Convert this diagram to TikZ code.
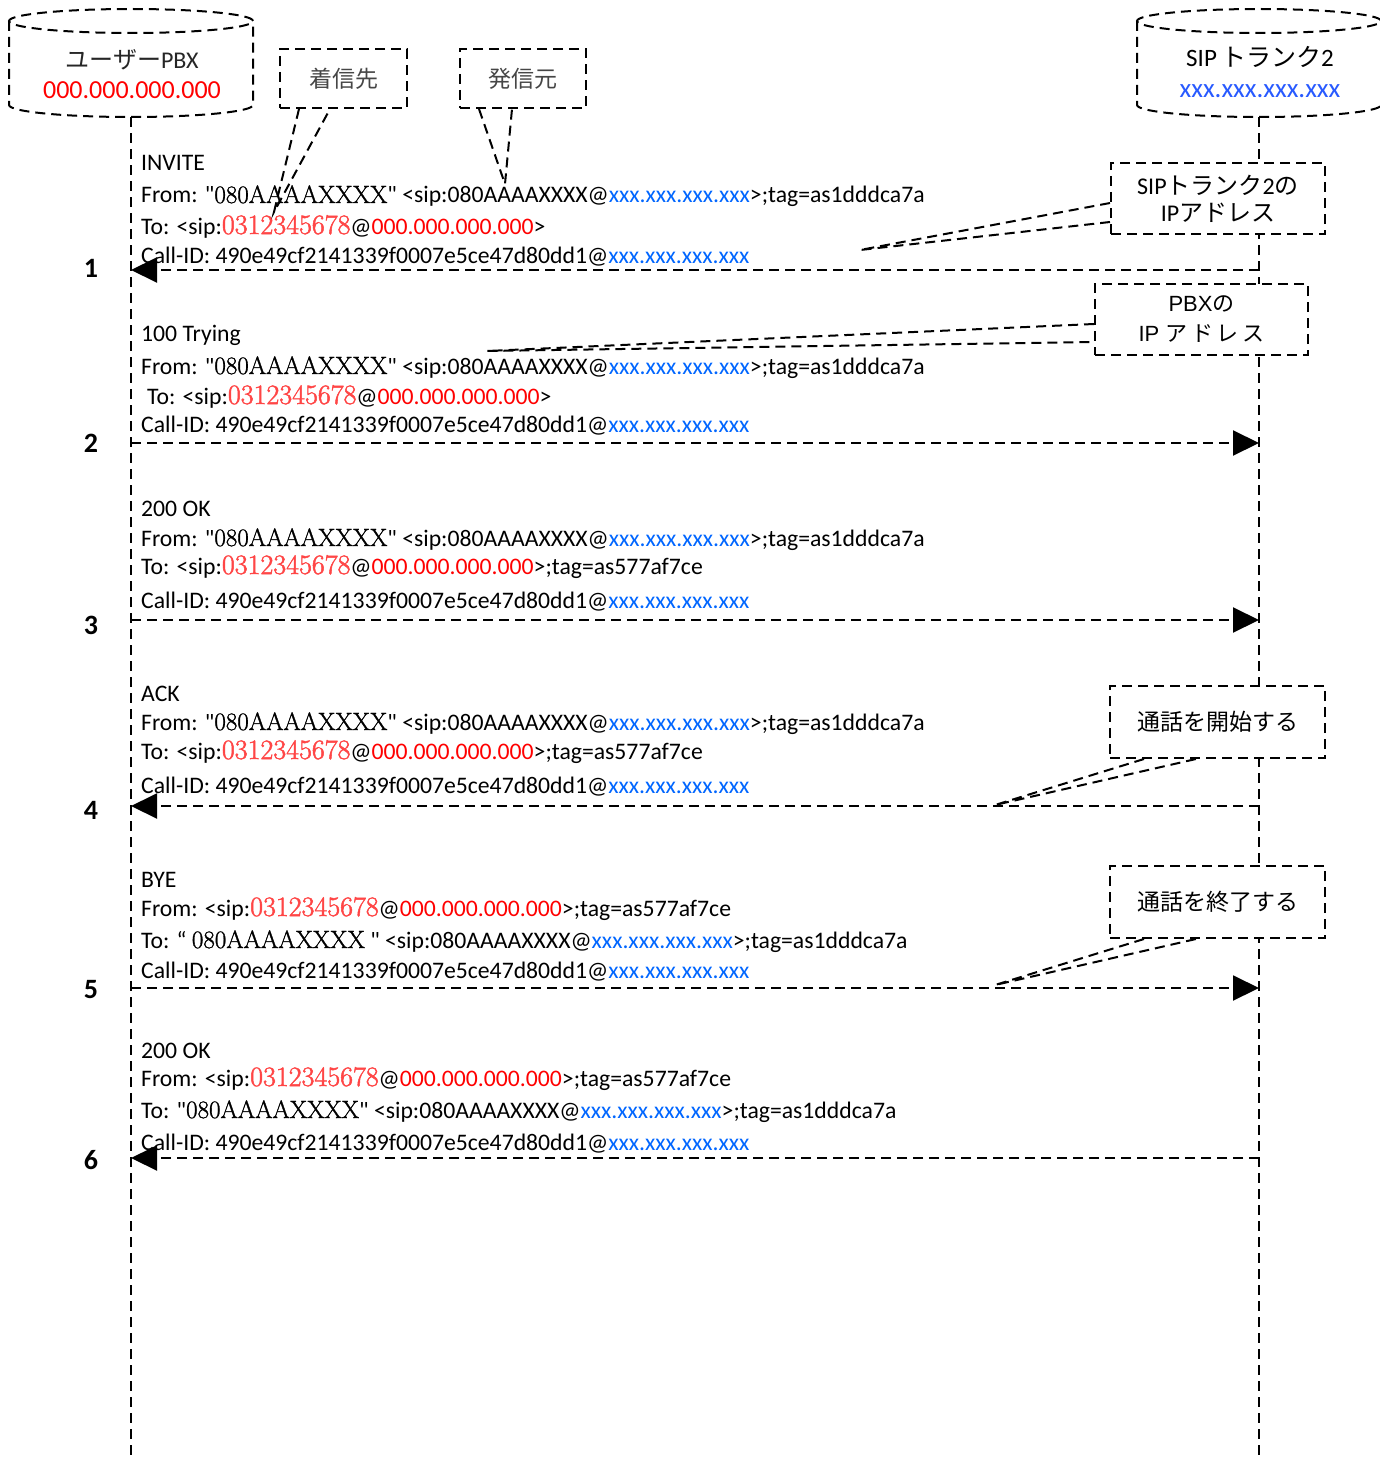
\documentclass[tikz,border=0pt]{standalone}
\usepackage{fontspec}
\usetikzlibrary{arrows.meta,calc}
\newfontfamily\calfnt{Carlito}
\newfontfamily\jp{Noto Sans CJK JP}
\newfontfamily\ars{Liberation Sans}
\newfontfamily\srfb{Latin Modern Roman}[FakeBold=1.2]
\newfontfamily\srfbb{Latin Modern Roman}[FakeBold=1.8]
\definecolor{ipred}{RGB}{255,0,0}
\definecolor{telred}{RGB}{255,70,70}
\definecolor{ipblue}{RGB}{0,102,255}
\definecolor{cylblue}{RGB}{40,90,255}
\definecolor{callgray}{RGB}{70,70,70}
\newcommand\sq{\XeTeXglyph\XeTeXcharglyph"22\relax}
\newcommand\myQN{{\srfb\fontsize{25}{25}\selectfont 080AAAAXXXX}}
\newcommand\myTel{{\srfbb\fontsize{28}{28}\selectfont\color{telred}0312345678}}
\newcommand\myPIP{{\color{ipred}000.000.000.000}}
\newcommand\myTIP{{\color{ipblue}xxx.xxx.xxx.xxx}}
\newcommand\mFromA{From: \sq\myQN\sq\ <sip:080AAAAXXXX@\myTIP>;tag=as1dddca7a}
\newcommand\mFromB{From: <sip:\myTel{}@\myPIP>;tag=as577af7ce}
\newcommand\mToA{To: <sip:\myTel{}@\myPIP>}
\newcommand\mToB{To: <sip:\myTel{}@\myPIP>;tag=as577af7ce}
\newcommand\myCID{Call-ID: 490e49cf2141339f0007e5ce47d80dd1@\myTIP}
\tikzset{
  dsh/.style={line width=2pt, dash pattern=on 10pt off 6pt},
  lifeline/.style={dsh},
  msgarr/.style={dsh, -{Triangle[length=26pt,width=25pt]}},
  msgtxt/.style={anchor=base west, inner sep=0pt, font=\calfnt\fontsize{23.7}{28}\selectfont},
  numlbl/.style={inner sep=0pt, font=\calfnt\bfseries\fontsize{28}{28}\selectfont},
  cbox/.style={draw, dsh, fill=white, align=center, inner sep=0pt},
  tail/.style={dsh},
  cyl/.style={dsh},
}
\begin{document}
\begin{tikzpicture}[x=1pt,y=-1pt]
\fill[white] (0,0) rectangle (1380,1458);
\useasboundingbox (0,0) rectangle (1380,1458);

% cylinders (placeholders for anchors)
\node[inner sep=0pt, minimum width=244pt, minimum height=108pt] (pbx) at (131,63) {};
\node[inner sep=0pt, minimum width=244pt, minimum height=108pt] (trk) at (1259,63) {};
\coordinate (pbxend) at (131,1458);
\coordinate (trkend) at (1259,1458);

% lifelines
\draw[lifeline] (pbx.south) -- (pbxend);
\draw[lifeline] (trk.south) -- (trkend);

% left cylinder
\draw[cyl] (9,21) -- (9,105) arc[start angle=180, end angle=360, x radius=122pt, y radius=12pt] -- (253,21);
\draw[cyl] (131,21) ellipse [x radius=122pt, y radius=12pt];
% right cylinder
\draw[cyl] (1137,21) -- (1137,105) arc[start angle=180, end angle=360, x radius=122pt, y radius=12pt] -- (1381,21);
\draw[cyl] (1259,21) ellipse [x radius=122pt, y radius=12pt];

\node[inner sep=0pt, font=\fontsize{24}{24}\selectfont, text=black!85] (pbxname) at (132,60) {{\jp ユーザー}{\calfnt PBX}};
\node[inner sep=0pt, font=\calfnt\fontsize{26}{26}\selectfont, text=ipred] (pbxaddr) at (132,90) {000.000.000.000};
\node[inner sep=0pt, font=\fontsize{25}{25}\selectfont] (trkname) at (1260,57) {{\calfnt SIP}\,{\jp トランク}{\calfnt 2}};
\node[inner sep=0pt, font=\calfnt\fontsize{27}{27}\selectfont, text=cylblue] (trkaddr) at (1260,91) {xxx.xxx.xxx.xxx};

% arrow end points
\coordinate (L1) at (131,270);  \coordinate (R1) at (1259,270);
\coordinate (L2) at (131,443);  \coordinate (R2) at (1259,443);
\coordinate (L3) at (131,620);  \coordinate (R3) at (1259,620);
\coordinate (L4) at (131,806);  \coordinate (R4) at (1259,806);
\coordinate (L5) at (131,988);  \coordinate (R5) at (1259,988);
\coordinate (L6) at (131,1158); \coordinate (R6) at (1259,1158);

\draw[msgarr] (R1) -- (L1);
\draw[msgarr] (L2) -- (R2);
\draw[msgarr] (L3) -- (R3);
\draw[msgarr] (R4) -- (L4);
\draw[msgarr] (L5) -- (R5);
\draw[msgarr] (R6) -- (L6);

% step numbers
\node[numlbl] (n1) at (91,268) {1};
\node[numlbl] (n2) at (91,443) {2};
\node[numlbl] (n3) at (91,625) {3};
\node[numlbl] (n4) at (91,810) {4};
\node[numlbl] (n5) at (91,990) {5};
\node[numlbl] (n6) at (91,1160) {6};

% message 1
\node[msgtxt] (m1h) at (141,171) {INVITE};
\node[msgtxt] (m1f) at (141,203) {\mFromA};
\node[msgtxt] (m1t) at (141,234) {\mToA};
\node[msgtxt] (m1c) at (141,263) {\myCID};
% message 2
\node[msgtxt] (m2h) at (141,341) {100 Trying};
\node[msgtxt] (m2f) at (141,374) {\mFromA};
\node[msgtxt] (m2t) at (147,404) {\mToA};
\node[msgtxt] (m2c) at (141,432) {\myCID};
% message 3
\node[msgtxt] (m3h) at (141,516) {200 OK};
\node[msgtxt] (m3f) at (141,546) {\mFromA};
\node[msgtxt] (m3t) at (141,574) {\mToB};
\node[msgtxt] (m3c) at (141,608) {\myCID};
% message 4
\node[msgtxt] (m4h) at (141,701) {ACK};
\node[msgtxt] (m4f) at (141,730) {\mFromA};
\node[msgtxt] (m4t) at (141,759) {\mToB};
\node[msgtxt] (m4c) at (141,793) {\myCID};
% message 5
\node[msgtxt] (m5h) at (141,887) {BYE};
\node[msgtxt] (m5f) at (141,916) {\mFromB};
\node[msgtxt] (m5t) at (141,948) {To: “ \myQN{} \sq\ <sip:080AAAAXXXX@\myTIP>;tag=as1dddca7a};
\node[msgtxt] (m5c) at (141,978) {\myCID};
% message 6
\node[msgtxt] (m6h) at (141,1058) {200 OK};
\node[msgtxt] (m6f) at (141,1086) {\mFromB};
\node[msgtxt] (m6t) at (141,1118) {To: \sq\myQN\sq\ <sip:080AAAAXXXX@\myTIP>;tag=as1dddca7a};
\node[msgtxt] (m6c) at (141,1150) {\myCID};

% callout boxes
\node[cbox, minimum width=127pt, minimum height=59pt, text=callgray, font=\jp\fontsize{23}{23}\selectfont] (c1) at (343.5,78.5) {着信先};
\node[cbox, minimum width=126pt, minimum height=59pt, text=callgray, font=\jp\fontsize{23}{23}\selectfont] (c2) at (523,78.5) {発信元};
\node[cbox, minimum width=214pt, minimum height=71pt, font=\fontsize{24}{27}\selectfont] (c3) at (1218,198.5) {{\calfnt SIP}{\jp トランク}{\calfnt 2}{\jp の}\\{\calfnt IP}{\jp アドレス}};
\node[cbox, minimum width=213pt, minimum height=71pt, font=\fontsize{22}{30}\selectfont] (c4) at (1201.5,319.5) {{\ars PBX}{\jp の}\\{\ars IP }{\jp ア\,ド\,レ\,ス}};
\node[cbox, minimum width=215pt, minimum height=72pt, font=\jp\fontsize{23}{23}\selectfont] (c5) at (1217.5,722) {通話を開始する};
\node[cbox, minimum width=215pt, minimum height=72pt, font=\jp\fontsize{23}{23}\selectfont] (c6) at (1217.5,902) {通話を終了する};

% callout tails
\coordinate (t1) at (274,212);
\coordinate (t2) at (505,184);
\coordinate (t3) at (860,250);
\coordinate (t4) at (487,351);
\coordinate (t5) at (995,805);
\coordinate (t6) at (995,985);
\draw[tail] ($(c1.south west)+(20,0)$) -- (t1) -- ($(c1.south west)+(51,0)$);
\draw[tail] ($(c2.south west)+(20,0)$) -- (t2) -- ($(c2.south west)+(53,0)$);
\draw[tail] ($(c3.north west)+(0,41)$) -- (t3) -- ($(c3.north west)+(0,60)$);
\draw[tail] ($(c4.north west)+(0,41)$) -- (t4) -- ($(c4.north west)+(0,59)$);
\draw[tail] ($(c5.south west)+(35,0)$) -- (t5) -- ($(c5.south west)+(87,0)$);
\draw[tail] ($(c6.south west)+(35,0)$) -- (t6) -- ($(c6.south west)+(87,0)$);
\end{tikzpicture}
\end{document}
